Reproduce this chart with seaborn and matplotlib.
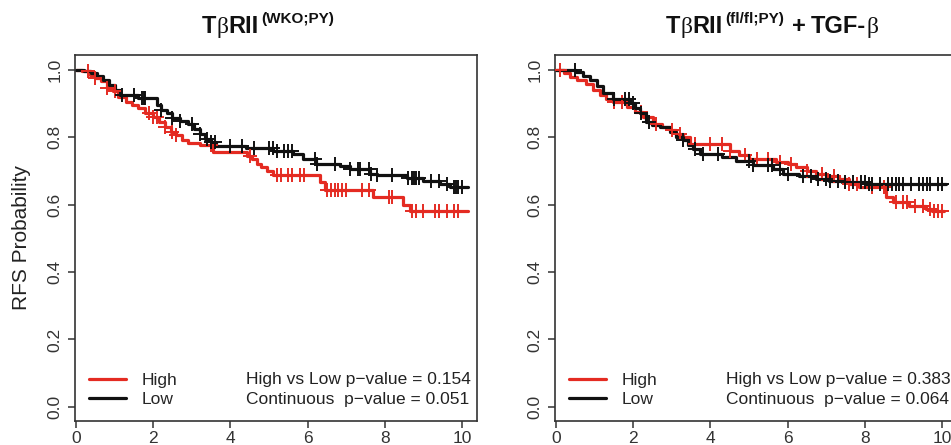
import numpy as np
import pandas as pd
import matplotlib
matplotlib.use("Agg")
import matplotlib.pyplot as plt
import seaborn as sns

sns.set_style("white")
plt.rcParams['font.family'] = ['Liberation Sans', 'DejaVu Sans']

# --- data (years, RFS probability) ---
# left panel: TbRII (WKO;PY)
left_high_t = [0, 0.15, 0.35, 0.5, 0.65, 0.8, 0.95, 1.1, 1.3, 1.45, 1.6, 1.8, 2.0, 2.15, 2.3, 2.45, 2.6,
               2.75, 2.9, 3.2, 3.56, 4.42, 4.55, 4.68, 4.8, 4.94, 5.11, 6.32, 6.45, 7.7, 8.48, 8.65, 10.15]
left_high_s = [1.0, 0.995, 0.985, 0.975, 0.965, 0.945, 0.935, 0.92, 0.905, 0.895, 0.885, 0.87, 0.86, 0.845,
               0.83, 0.815, 0.805, 0.79, 0.782, 0.775, 0.757, 0.745, 0.735, 0.72, 0.71, 0.70, 0.686, 0.666,
               0.642, 0.622, 0.60, 0.58, 0.58]
left_low_t = [0, 0.2, 0.4, 0.55, 0.7, 0.85, 1.0, 1.14, 1.6, 2.1, 2.2, 2.35, 2.5, 2.69, 2.9, 3.05, 3.2, 3.35,
              3.5, 3.64, 4.4, 5.11, 5.63, 5.89, 6.23, 6.84, 7.1, 7.62, 7.79, 8.57, 9.0, 9.43, 9.69, 10.15]
left_low_s = [1.0, 0.995, 0.99, 0.98, 0.97, 0.955, 0.94, 0.925, 0.915, 0.895, 0.88, 0.87, 0.855, 0.848, 0.84,
              0.825, 0.81, 0.795, 0.785, 0.772, 0.767, 0.76, 0.75, 0.735, 0.72, 0.715, 0.705, 0.69, 0.686,
              0.68, 0.67, 0.66, 0.652, 0.652]
left_high_cens = [0.3, 0.5, 0.8, 1.0, 1.9, 2.0, 2.1, 2.3, 2.5, 2.6, 3.5, 4.5, 5.2, 5.3, 5.5, 5.6, 5.8, 5.9,
                  6.5, 6.6, 6.7, 6.8, 6.9, 7.0, 7.4, 7.6, 8.1, 8.2, 8.7, 8.8, 9.0, 9.3, 9.4, 9.6, 9.8, 9.9]
left_low_cens = [1.2, 1.5, 1.7, 1.75, 1.8, 2.2, 2.5, 2.7, 3.0, 3.2, 3.4, 3.5, 3.6, 4.0, 4.3, 4.6, 5.0, 5.1,
                 5.2, 5.4, 5.5, 5.6, 6.2, 6.25, 6.7, 7.1, 7.3, 7.35, 7.6, 7.65, 7.8, 8.2, 8.6, 8.7, 8.75,
                 8.8, 8.9, 9.2, 9.4, 9.6, 9.8, 9.85, 9.9, 10.0]

# right panel: TbRII (fl/fl;PY) + TGF-b
right_high_t = [0, 0.2, 0.36, 0.55, 0.79, 0.95, 1.14, 1.3, 1.48, 1.83, 2.05, 2.26, 2.52, 2.75, 2.95, 3.12,
                3.29, 3.46, 4.5, 4.75, 5.01, 5.7, 6.0, 6.22, 6.5, 6.74, 7.0, 7.34, 7.6, 7.86, 8.54, 8.72,
                9.15, 9.58, 9.75, 10.05]
right_high_s = [1.0, 0.99, 0.978, 0.968, 0.958, 0.94, 0.924, 0.912, 0.904, 0.889, 0.875, 0.86, 0.84, 0.83,
                0.82, 0.81, 0.80, 0.78, 0.76, 0.748, 0.736, 0.726, 0.72, 0.711, 0.70, 0.69, 0.683, 0.676,
                0.661, 0.651, 0.622, 0.607, 0.597, 0.587, 0.582, 0.582]
right_low_t = [0, 0.53, 0.7, 0.88, 1.05, 1.22, 1.48, 1.91, 2.05, 2.17, 2.34, 2.5, 2.69, 2.95, 3.1, 3.29,
               3.42, 3.55, 3.72, 4.3, 4.67, 5.1, 5.62, 5.87, 6.3, 6.74, 7.08, 7.42, 8.03, 10.1]
right_low_s = [1.0, 0.993, 0.98, 0.968, 0.95, 0.93, 0.914, 0.90, 0.885, 0.87, 0.845, 0.835, 0.83, 0.815,
               0.80, 0.79, 0.775, 0.765, 0.75, 0.74, 0.73, 0.716, 0.706, 0.69, 0.685, 0.676, 0.671, 0.666,
               0.661, 0.661]
right_high_cens = [0.1, 1.5, 1.7, 2.2, 2.6, 3.0, 3.2, 3.6, 4.0, 4.3, 4.5, 4.9, 5.2, 5.5, 5.8, 6.1, 6.5, 6.9,
                   7.2, 7.6, 7.8, 8.2, 8.5, 8.8, 9.0, 9.1, 9.3, 9.5, 9.7, 9.8, 9.9, 10.0]
right_low_cens = [0.5, 1.5, 1.8, 1.9, 2.0, 2.2, 2.4, 3.3, 3.6, 3.8, 4.2, 5.0, 5.1, 5.5, 5.6, 5.8, 6.0, 6.4,
                  6.6, 6.8, 7.0, 7.1, 7.3, 7.5, 7.7, 7.9, 8.0, 8.1, 8.2, 8.4, 8.6, 8.7, 8.8, 8.9, 9.0,
                  9.2, 9.4, 9.5, 9.6, 9.7, 9.9, 10.0]

pvals_left = ["0.154", "0.051"]
pvals_right = ["0.383", "0.064"]

RED = '#e42b22'
BLACK = '#111111'
GRAY = '#333333'

W, H = 951, 445
fig = plt.figure(figsize=(W / 100, H / 100), dpi=100)
fig.patch.set_facecolor('white')


def step_value(times, surv, t):
    idx = np.searchsorted(times, t, side='right') - 1
    return np.asarray(surv)[idx]


def km_panel(ax, high_t, high_s, low_t, low_s, high_c, low_c, pv):
    for t, s, c, col in [(high_t, high_s, high_c, RED), (low_t, low_s, low_c, BLACK)]:
        sns.lineplot(x=t, y=s, ax=ax, color=col, linewidth=2.3, drawstyle='steps-post',
                     estimator=None, sort=False)
        cy = step_value(t, s, c)
        sns.scatterplot(x=c, y=cy, ax=ax, marker='+', s=95, color=col, linewidth=1.4, zorder=3)

    ax.set_xlim(-0.026, 10.39)
    ax.set_ylim(-0.0415, 1.043)
    ax.set_xticks([0, 2, 4, 6, 8, 10])
    ax.set_yticks([0.0, 0.2, 0.4, 0.6, 0.8, 1.0])
    ax.set_yticklabels(['0.0', '0.2', '0.4', '0.6', '0.8', '1.0'], rotation=90, va='center')
    ax.tick_params(axis='both', direction='out', length=5, width=1.1, colors=GRAY,
                   labelsize=12.5, pad=2, left=True, bottom=True)
    ax.tick_params(axis='y', pad=4)
    for sp in ax.spines.values():
        sp.set_color(GRAY)
        sp.set_linewidth(1.2)
    ax.set_xlabel('')
    ax.set_ylabel('')

    h_high, = ax.plot([], [], color=RED, linewidth=2.3)
    h_low, = ax.plot([], [], color=BLACK, linewidth=2.3)
    ax.legend([h_high, h_low], ['High', 'Low'], loc='lower left', bbox_to_anchor=(0.035, 0.038),
              frameon=False, fontsize=12.5, handlelength=2.1, handletextpad=0.9,
              borderpad=0, borderaxespad=0, labelspacing=0.25)
    ax.text(0.425, 0.113, f'High vs Low p\u2212value = {pv[0]}', transform=ax.transAxes,
            fontsize=12.5, va='center', ha='left', color='#222222')
    ax.text(0.425, 0.059, f'Continuous  p\u2212value = {pv[1]}', transform=ax.transAxes,
            fontsize=12.5, va='center', ha='left', color='#222222')


def rich_title(xc_px, base_px, pieces):
    # pieces: (text, size, weight, family, rise_px, gap_before_px)
    renderer = fig.canvas.get_renderer()
    items = []
    x = 0.0
    for s, size, weight, family, rise, gap in pieces:
        x += gap
        t = fig.text(0, 0, s, fontsize=size, fontweight=weight, family=family,
                     va='baseline', ha='left', color='#111111')
        w = t.get_window_extent(renderer).width
        items.append((t, x, rise))
        x += w
    x0 = xc_px - x / 2
    for t, off, rise in items:
        t.set_position(((x0 + off) / W, (H - base_px + rise) / H))


ax1 = fig.add_axes([75 / W, 1 - 421 / H, 402 / W, 366 / H])
ax2 = fig.add_axes([555 / W, 1 - 421 / H, 402 / W, 366 / H])
km_panel(ax1, left_high_t, left_high_s, left_low_t, left_low_s, left_high_cens, left_low_cens, pvals_left)
km_panel(ax2, right_high_t, right_high_s, right_low_t, right_low_s, right_high_cens, right_low_cens, pvals_right)

ax1.set_ylabel('RFS Probability', fontsize=15, color='#222222', labelpad=12)

SANS = 'Liberation Sans'
SERIF = 'Liberation Serif'
rich_title(268, 33, [
    ('T', 17, 'bold', SANS, 0, 0),
    ('\u03b2', 17, 'normal', SERIF, 0, 0),
    ('RII', 17, 'bold', SANS, 0, 0),
    ('(WKO;PY)', 11, 'bold', SANS, 10, 3),
])
rich_title(772, 33, [
    ('T', 17, 'bold', SANS, 0, 0),
    ('\u03b2', 17, 'normal', SERIF, 0, 0),
    ('RII', 17, 'bold', SANS, 0, 0),
    ('(fl/fl;PY)', 11, 'bold', SANS, 10, 3),
    ('+', 17, 'bold', SANS, 0, 8),
    ('TGF-', 17, 'bold', SANS, 0, 5),
    ('\u03b2', 17, 'normal', SERIF, 0, 0),
])

fig.savefig('out.png', dpi=100, facecolor='white')
